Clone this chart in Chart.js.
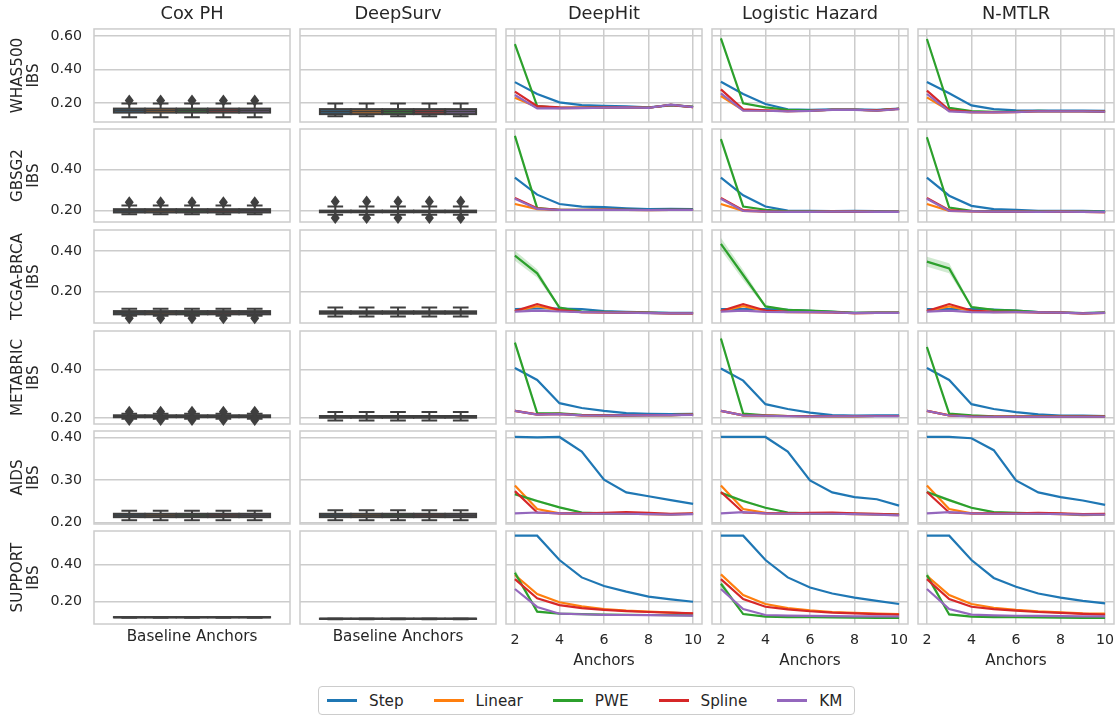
<!DOCTYPE html>
<html>
<head>
<meta charset="utf-8">
<script src="https://cdn.jsdelivr.net/npm/chart.js@4.4.1/dist/chart.umd.min.js"></script>
<style>
  body { margin: 0; background: #fff; width: 1118px; height: 717px; position: relative; overflow: hidden;
         font-family: 'DejaVu Sans', sans-serif; color: #262626; }
  canvas { position: absolute; }
  #legend { position: absolute; left: 318px; top: 686px; width: 537px; height: 29px; border: 1px solid #cccccc;
            border-radius: 4px; display: flex; align-items: center; box-sizing: border-box; padding-left: 8px;
            font-size: 15.2px; background: #fff; }
  #legend .item { display: flex; align-items: center; margin-right: 30px; }
  #legend .swatch { width: 30px; height: 2.2px; margin-right: 12px; }
</style>
</head>
<body>
<div id="legend"></div>
<script>
// --- données ---
const rowNames = ['WHAS500', 'GBSG2', 'TCGA-BRCA', 'METABRIC', 'AIDS', 'SUPPORT'];
const models = ['Cox PH', 'DeepSurv', 'DeepHit', 'Logistic Hazard', 'N-MTLR'];
const methods = ['Step', 'Linear', 'PWE', 'Spline', 'KM'];
const anchors = [2, 3, 4, 5, 6, 7, 8, 9, 10];

// limites de l'axe y (partagé par ligne) et pas des graduations
const yMin = [0.087, 0.146, 0.043, 0.176, 0.197, 0.081];
const yMax = [0.642, 0.595, 0.504, 0.560, 0.415, 0.578];
const yStep = [0.2, 0.2, 0.2, 0.2, 0.1, 0.2];

// IBS par méthode : Step, Linear, PWE, Spline, KM
const whasDeepHit = [
  [0.325, 0.254, 0.204, 0.188, 0.183, 0.180, 0.174, 0.186, 0.177],
  [0.232, 0.176, 0.170, 0.171, 0.173, 0.175, 0.172, 0.189, 0.176],
  [0.552, 0.182, 0.172, 0.172, 0.174, 0.175, 0.172, 0.189, 0.177],
  [0.268, 0.182, 0.174, 0.173, 0.174, 0.175, 0.172, 0.189, 0.176],
  [0.248, 0.168, 0.168, 0.170, 0.173, 0.174, 0.171, 0.190, 0.176]];
const whasLH = [
  [0.327, 0.254, 0.194, 0.163, 0.160, 0.162, 0.163, 0.160, 0.167],
  [0.242, 0.158, 0.155, 0.151, 0.153, 0.160, 0.160, 0.155, 0.165],
  [0.586, 0.198, 0.174, 0.160, 0.155, 0.160, 0.160, 0.156, 0.166],
  [0.282, 0.162, 0.157, 0.152, 0.154, 0.160, 0.160, 0.156, 0.166],
  [0.258, 0.154, 0.154, 0.150, 0.153, 0.159, 0.159, 0.154, 0.164]];
const whasMTLR = [
  [0.325, 0.258, 0.186, 0.164, 0.156, 0.155, 0.155, 0.155, 0.153],
  [0.234, 0.155, 0.145, 0.145, 0.146, 0.152, 0.150, 0.150, 0.148],
  [0.582, 0.172, 0.152, 0.148, 0.148, 0.153, 0.151, 0.151, 0.149],
  [0.274, 0.158, 0.147, 0.146, 0.147, 0.152, 0.151, 0.151, 0.149],
  [0.254, 0.150, 0.145, 0.144, 0.146, 0.151, 0.150, 0.150, 0.148]];

const gbsgDeepHit = [
  [0.360, 0.278, 0.233, 0.220, 0.218, 0.212, 0.208, 0.209, 0.208],
  [0.233, 0.208, 0.204, 0.204, 0.205, 0.204, 0.203, 0.204, 0.204],
  [0.562, 0.213, 0.205, 0.205, 0.206, 0.205, 0.204, 0.205, 0.205],
  [0.262, 0.212, 0.205, 0.205, 0.206, 0.205, 0.204, 0.205, 0.205],
  [0.258, 0.209, 0.204, 0.204, 0.205, 0.204, 0.203, 0.204, 0.204]];
const gbsgLH = [
  [0.360, 0.275, 0.221, 0.201, 0.200, 0.199, 0.200, 0.199, 0.198],
  [0.233, 0.200, 0.196, 0.195, 0.195, 0.196, 0.196, 0.195, 0.195],
  [0.546, 0.221, 0.205, 0.198, 0.196, 0.196, 0.196, 0.195, 0.195],
  [0.262, 0.203, 0.197, 0.195, 0.195, 0.196, 0.196, 0.195, 0.195],
  [0.258, 0.199, 0.196, 0.195, 0.195, 0.196, 0.196, 0.195, 0.195]];
const gbsgMTLR = [
  [0.360, 0.273, 0.224, 0.208, 0.205, 0.200, 0.200, 0.200, 0.197],
  [0.233, 0.200, 0.197, 0.196, 0.196, 0.195, 0.196, 0.195, 0.194],
  [0.555, 0.216, 0.200, 0.198, 0.197, 0.196, 0.197, 0.196, 0.195],
  [0.262, 0.203, 0.198, 0.196, 0.196, 0.195, 0.196, 0.195, 0.194],
  [0.258, 0.199, 0.197, 0.196, 0.196, 0.195, 0.196, 0.195, 0.194]];

const tcgaDeepHit = [
  [0.112, 0.115, 0.115, 0.112, 0.102, 0.098, 0.096, 0.093, 0.093],
  [0.102, 0.127, 0.105, 0.097, 0.095, 0.094, 0.093, 0.091, 0.091],
  [0.377, 0.289, 0.119, 0.100, 0.098, 0.096, 0.093, 0.092, 0.092],
  [0.102, 0.137, 0.107, 0.097, 0.095, 0.094, 0.093, 0.091, 0.091],
  [0.099, 0.104, 0.100, 0.097, 0.095, 0.094, 0.092, 0.091, 0.091]];
const tcgaLH = [
  [0.112, 0.112, 0.112, 0.108, 0.103, 0.098, 0.093, 0.094, 0.094],
  [0.102, 0.127, 0.103, 0.097, 0.097, 0.096, 0.092, 0.093, 0.093],
  [0.435, 0.281, 0.125, 0.108, 0.105, 0.100, 0.093, 0.095, 0.094],
  [0.102, 0.137, 0.105, 0.098, 0.097, 0.096, 0.092, 0.093, 0.093],
  [0.099, 0.104, 0.098, 0.097, 0.097, 0.096, 0.092, 0.093, 0.093]];
const tcgaMTLR = [
  [0.112, 0.112, 0.112, 0.110, 0.104, 0.097, 0.095, 0.092, 0.094],
  [0.102, 0.125, 0.103, 0.097, 0.098, 0.096, 0.094, 0.091, 0.093],
  [0.347, 0.314, 0.122, 0.108, 0.105, 0.097, 0.095, 0.092, 0.094],
  [0.102, 0.137, 0.105, 0.098, 0.098, 0.096, 0.094, 0.091, 0.093],
  [0.099, 0.104, 0.097, 0.096, 0.097, 0.096, 0.094, 0.091, 0.093]];

const metabricDeepHit = [
  [0.407, 0.358, 0.262, 0.242, 0.230, 0.221, 0.218, 0.217, 0.218],
  [0.230, 0.215, 0.218, 0.212, 0.212, 0.212, 0.213, 0.213, 0.215],
  [0.512, 0.221, 0.220, 0.214, 0.212, 0.212, 0.213, 0.213, 0.215],
  [0.230, 0.216, 0.218, 0.212, 0.212, 0.212, 0.213, 0.213, 0.215],
  [0.230, 0.215, 0.217, 0.212, 0.211, 0.212, 0.212, 0.213, 0.214]];
const metabricLH = [
  [0.405, 0.355, 0.258, 0.238, 0.223, 0.213, 0.211, 0.212, 0.212],
  [0.230, 0.212, 0.211, 0.209, 0.208, 0.208, 0.208, 0.209, 0.209],
  [0.529, 0.219, 0.212, 0.209, 0.208, 0.208, 0.208, 0.209, 0.209],
  [0.230, 0.212, 0.211, 0.209, 0.208, 0.208, 0.208, 0.209, 0.209],
  [0.230, 0.212, 0.210, 0.208, 0.207, 0.208, 0.208, 0.208, 0.208]];
const metabricMTLR = [
  [0.407, 0.358, 0.258, 0.238, 0.225, 0.216, 0.211, 0.211, 0.209],
  [0.230, 0.212, 0.208, 0.207, 0.207, 0.207, 0.207, 0.207, 0.207],
  [0.494, 0.219, 0.212, 0.208, 0.207, 0.207, 0.207, 0.207, 0.207],
  [0.230, 0.212, 0.208, 0.207, 0.207, 0.207, 0.207, 0.207, 0.207],
  [0.230, 0.211, 0.207, 0.206, 0.206, 0.206, 0.206, 0.206, 0.206]];

const aidsDeepHit = [
  [0.401, 0.400, 0.401, 0.367, 0.301, 0.271, 0.262, 0.253, 0.244],
  [0.287, 0.232, 0.222, 0.221, 0.222, 0.221, 0.220, 0.219, 0.221],
  [0.267, 0.251, 0.236, 0.224, 0.222, 0.222, 0.221, 0.220, 0.221],
  [0.274, 0.224, 0.222, 0.222, 0.223, 0.225, 0.223, 0.221, 0.222],
  [0.222, 0.224, 0.222, 0.221, 0.221, 0.221, 0.220, 0.219, 0.220]];
const aidsLH = [
  [0.401, 0.401, 0.401, 0.367, 0.299, 0.271, 0.260, 0.255, 0.240],
  [0.287, 0.232, 0.223, 0.221, 0.221, 0.221, 0.220, 0.219, 0.218],
  [0.270, 0.251, 0.235, 0.224, 0.222, 0.222, 0.221, 0.220, 0.219],
  [0.272, 0.224, 0.222, 0.222, 0.223, 0.224, 0.222, 0.221, 0.219],
  [0.222, 0.225, 0.222, 0.221, 0.221, 0.221, 0.220, 0.219, 0.217]];
const aidsMTLR = [
  [0.401, 0.401, 0.398, 0.370, 0.299, 0.271, 0.260, 0.252, 0.242],
  [0.287, 0.232, 0.222, 0.221, 0.221, 0.221, 0.220, 0.218, 0.219],
  [0.272, 0.253, 0.235, 0.225, 0.223, 0.222, 0.221, 0.219, 0.220],
  [0.272, 0.224, 0.222, 0.222, 0.222, 0.223, 0.222, 0.220, 0.221],
  [0.222, 0.225, 0.222, 0.221, 0.221, 0.221, 0.220, 0.219, 0.219]];

const supportDeepHit = [
  [0.553, 0.553, 0.423, 0.330, 0.284, 0.254, 0.227, 0.213, 0.200],
  [0.343, 0.241, 0.197, 0.175, 0.161, 0.152, 0.147, 0.142, 0.136],
  [0.355, 0.147, 0.136, 0.134, 0.131, 0.130, 0.129, 0.128, 0.127],
  [0.321, 0.218, 0.182, 0.166, 0.157, 0.150, 0.145, 0.142, 0.138],
  [0.268, 0.172, 0.136, 0.133, 0.130, 0.129, 0.128, 0.127, 0.126]];
const supportLH = [
  [0.553, 0.553, 0.423, 0.330, 0.276, 0.244, 0.222, 0.205, 0.188],
  [0.346, 0.236, 0.188, 0.166, 0.154, 0.145, 0.141, 0.137, 0.134],
  [0.296, 0.134, 0.120, 0.118, 0.117, 0.116, 0.115, 0.114, 0.113],
  [0.321, 0.214, 0.173, 0.159, 0.149, 0.142, 0.138, 0.134, 0.131],
  [0.268, 0.161, 0.129, 0.126, 0.124, 0.123, 0.122, 0.122, 0.121]];
const supportMTLR = [
  [0.553, 0.553, 0.423, 0.327, 0.280, 0.244, 0.222, 0.205, 0.191],
  [0.338, 0.236, 0.188, 0.168, 0.156, 0.148, 0.143, 0.138, 0.136],
  [0.342, 0.132, 0.120, 0.118, 0.117, 0.116, 0.115, 0.114, 0.113],
  [0.321, 0.214, 0.173, 0.160, 0.152, 0.145, 0.140, 0.135, 0.131],
  [0.268, 0.161, 0.131, 0.127, 0.125, 0.124, 0.123, 0.122, 0.122]];

// demi-largeur de la bande de confiance PWE (DeepHit, Logistic Hazard, N-MTLR)
const whasBand = [[0.012, 0.003, 0.002, 0.002, 0.002, 0.002, 0.002, 0.002, 0.002],
                  [0.012, 0.004, 0.002, 0.002, 0.002, 0.002, 0.002, 0.002, 0.002],
                  [0.012, 0.004, 0.002, 0.002, 0.002, 0.002, 0.002, 0.002, 0.002]];
const gbsgBand = [[0.012, 0.003, 0.002, 0.002, 0.002, 0.002, 0.002, 0.002, 0.002],
                  [0.012, 0.004, 0.002, 0.002, 0.002, 0.002, 0.002, 0.002, 0.002],
                  [0.012, 0.004, 0.002, 0.002, 0.002, 0.002, 0.002, 0.002, 0.002]];
const tcgaBand = [[0.025, 0.020, 0.006, 0.003, 0.002, 0.002, 0.002, 0.002, 0.002],
                  [0.030, 0.025, 0.006, 0.003, 0.002, 0.002, 0.002, 0.002, 0.002],
                  [0.025, 0.025, 0.006, 0.003, 0.002, 0.002, 0.002, 0.002, 0.002]];
const metabricBand = [[0.012, 0.003, 0.002, 0.002, 0.002, 0.002, 0.002, 0.002, 0.002],
                      [0.012, 0.003, 0.002, 0.002, 0.002, 0.002, 0.002, 0.002, 0.002],
                      [0.012, 0.003, 0.002, 0.002, 0.002, 0.002, 0.002, 0.002, 0.002]];
const aidsBand = [[0.004, 0.003, 0.002, 0.002, 0.002, 0.002, 0.002, 0.002, 0.002],
                  [0.004, 0.003, 0.002, 0.002, 0.002, 0.002, 0.002, 0.002, 0.002],
                  [0.004, 0.003, 0.002, 0.002, 0.002, 0.002, 0.002, 0.002, 0.002]];
const supportBand = [[0.020, 0.005, 0.002, 0.002, 0.002, 0.002, 0.002, 0.002, 0.002],
                     [0.020, 0.005, 0.002, 0.002, 0.002, 0.002, 0.002, 0.002, 0.002],
                     [0.020, 0.005, 0.002, 0.002, 0.002, 0.002, 0.002, 0.002, 0.002]];

// boîtes des modèles de base : [moustache basse, Q1, médiane, Q3, moustache haute]
const coxBoxes = [
  [0.115, 0.143, 0.155, 0.167, 0.198],
  [0.184, 0.192, 0.200, 0.208, 0.226],
  [0.079, 0.086, 0.094, 0.102, 0.114],
  [0.198, 0.204, 0.208, 0.212, 0.218],
  [0.206, 0.213, 0.217, 0.221, 0.228],
  [0.115, 0.116, 0.117, 0.118, 0.119]];
const coxOutliers = [[0.215], [0.241], [0.066], [0.227, 0.193], [], []];
const deepSurvBoxes = [
  [0.122, 0.134, 0.149, 0.164, 0.198],
  [0.181, 0.193, 0.197, 0.201, 0.221],
  [0.075, 0.089, 0.095, 0.101, 0.120],
  [0.190, 0.202, 0.205, 0.209, 0.226],
  [0.206, 0.213, 0.217, 0.221, 0.229],
  [0.107, 0.108, 0.109, 0.110, 0.111]];
const deepSurvOutliers = [[], [0.245, 0.165], [], [], [], []];

const lineColors = ['#1f77b4', '#ff7f0e', '#2ca02c', '#d62728', '#9467bd'];
const boxColors = ['#3274a1', '#e1812c', '#3a923a', '#c03d3e', '#9372b2'];

const lineRows = [
  [whasDeepHit, whasLH, whasMTLR],
  [gbsgDeepHit, gbsgLH, gbsgMTLR],
  [tcgaDeepHit, tcgaLH, tcgaMTLR],
  [metabricDeepHit, metabricLH, metabricMTLR],
  [aidsDeepHit, aidsLH, aidsMTLR],
  [supportDeepHit, supportLH, supportMTLR]];
const bandRows = [whasBand, gbsgBand, tcgaBand, metabricBand, aidsBand, supportBand];

// --- mise en page ---
const colLeft = [94, 300, 506, 712, 918];
const rowTop = [29, 129, 230, 331, 431, 531];
const panelW = 196, panelH = 93;
const FONT = 'DejaVu Sans';
const TXT = '#262626';
const GRID = '#cccccc';

// cadre gris autour de chaque panneau
const framePlugin = {
  id: 'frame',
  afterDatasetsDraw(chart) {
    const {ctx, chartArea: a} = chart;
    ctx.save();
    ctx.strokeStyle = GRID;
    ctx.lineWidth = 1.5;
    ctx.strokeRect(a.left, a.top, a.width, a.height);
    ctx.restore();
  }
};

// boîtes à moustaches dessinées via les échelles du graphique
const boxPlugin = {
  id: 'boxes',
  afterDatasetsDraw(chart, args, opts) {
    if (!opts.stats) return;
    const {ctx, scales: {x, y}} = chart;
    const [lo, q1, med, q3, hi] = opts.stats;
    const hueW = 0.8 / methods.length;
    ctx.save();
    ctx.strokeStyle = '#3f3f3f';
    ctx.lineWidth = 2;
    methods.forEach((m, i) => {
      const c = -0.4 + hueW * (i + 0.5);
      const x0 = x.getPixelForValue(c - hueW * 0.49);
      const x1 = x.getPixelForValue(c + hueW * 0.49);
      const xc = x.getPixelForValue(c);
      const capL = x.getPixelForValue(c - hueW * 0.25);
      const capR = x.getPixelForValue(c + hueW * 0.25);
      const yq1 = y.getPixelForValue(q1), yq3 = y.getPixelForValue(q3);
      ctx.fillStyle = boxColors[i];
      ctx.fillRect(x0, yq3, x1 - x0, yq1 - yq3);
      ctx.strokeRect(x0, yq3, x1 - x0, yq1 - yq3);
      ctx.beginPath();
      ctx.moveTo(x0, y.getPixelForValue(med)); ctx.lineTo(x1, y.getPixelForValue(med));
      ctx.moveTo(xc, yq3); ctx.lineTo(xc, y.getPixelForValue(hi));
      ctx.moveTo(xc, yq1); ctx.lineTo(xc, y.getPixelForValue(lo));
      ctx.moveTo(capL, y.getPixelForValue(hi)); ctx.lineTo(capR, y.getPixelForValue(hi));
      ctx.moveTo(capL, y.getPixelForValue(lo)); ctx.lineTo(capR, y.getPixelForValue(lo));
      ctx.stroke();
      ctx.fillStyle = '#3f3f3f';
      (opts.outliers || []).forEach(v => {
        const py = y.getPixelForValue(v);
        ctx.beginPath();
        ctx.moveTo(xc, py - 6); ctx.lineTo(xc + 4.5, py); ctx.lineTo(xc, py + 6); ctx.lineTo(xc - 4.5, py);
        ctx.closePath();
        ctx.fill();
      });
    });
    ctx.restore();
  }
};

function lineDatasets(r, c) {
  const series = lineRows[r][c - 2];
  const band = bandRows[r][c - 2];
  const sets = [];
  series.forEach((vals, i) => {
    sets.push({
      label: methods[i],
      data: anchors.map((a, k) => ({x: a, y: vals[k]})),
      borderColor: lineColors[i],
      borderWidth: 2.2,
      pointRadius: 0,
      tension: 0,
      fill: false,
      order: methods.length - i
    });
  });
  const pwe = series[2];
  sets.push({
    data: anchors.map((a, k) => ({x: a, y: pwe[k] + band[k]})),
    borderWidth: 0, pointRadius: 0, order: 10,
    backgroundColor: 'rgba(44,160,44,0.22)', fill: '+1'
  });
  sets.push({
    data: anchors.map((a, k) => ({x: a, y: pwe[k] - band[k]})),
    borderWidth: 0, pointRadius: 0, order: 11, fill: false
  });
  return sets;
}

function makePanel(r, c) {
  const isBox = c < 2;
  const P = 10;
  const padL = c === 0 ? 0 : P;
  const yW = c === 0 ? 94 : 0;
  const padT = r === 0 ? 0 : P;
  const titleH = r === 0 ? 29 : 0;
  const xH = r === 5 ? (isBox ? 22 : 46) : 0;
  const padB = r === 5 ? 6 : P;
  const w = padL + yW + panelW + P;
  const h = padT + titleH + panelH + xH + padB;

  const cv = document.createElement('canvas');
  cv.width = w; cv.height = h;
  cv.style.left = (colLeft[c] - padL - yW) + 'px';
  cv.style.top = (rowTop[r] - padT - titleH) + 'px';
  cv.style.width = w + 'px'; cv.style.height = h + 'px';
  document.body.appendChild(cv);

  const boxStats = c === 0 ? coxBoxes[r] : (c === 1 ? deepSurvBoxes[r] : null);
  const boxOut = c === 0 ? coxOutliers[r] : (c === 1 ? deepSurvOutliers[r] : null);

  new Chart(cv, {
    type: 'line',
    data: {datasets: isBox ? [] : lineDatasets(r, c)},
    options: {
      responsive: false,
      animation: false,
      layout: {padding: {left: padL, right: P, top: padT, bottom: padB}},
      plugins: {
        legend: {display: false},
        tooltip: {enabled: false},
        title: {
          display: r === 0, text: models[c], fullSize: false, color: TXT,
          font: {family: FONT, size: 17.8, weight: 'normal'},
          padding: {top: 3.5, bottom: 4.1}
        },
        boxes: {stats: boxStats, outliers: boxOut}
      },
      scales: {
        x: {
          type: 'linear',
          min: isBox ? -0.5 : 1.6,
          max: isBox ? 0.5 : 10.4,
          grid: {display: !isBox, color: GRID, lineWidth: 1.5, drawTicks: false},
          border: {display: false},
          ticks: {
            display: r === 5 && !isBox, stepSize: 2, includeBounds: false,
            color: TXT, padding: 8, font: {family: FONT, size: 14.2}
          },
          title: {
            display: r === 5, text: isBox ? 'Baseline Anchors' : 'Anchors', color: TXT,
            font: {family: FONT, size: 15.2}, padding: 0
          },
          afterFit: s => { s.height = xH; s.paddingLeft = 0; s.paddingRight = 0; }
        },
        y: {
          min: yMin[r], max: yMax[r],
          grid: {color: GRID, lineWidth: 1.5, drawTicks: false},
          border: {display: false},
          ticks: {
            display: c === 0, stepSize: yStep[r], includeBounds: false,
            color: TXT, padding: 12, font: {family: FONT, size: 14.2},
            callback: v => v.toFixed(2)
          },
          title: {
            display: c === 0, text: [rowNames[r], 'IBS'], color: TXT,
            font: {family: FONT, size: 15.2, lineHeight: 1.07}, padding: {top: 10, bottom: 0}
          },
          afterFit: s => { s.width = yW; s.paddingTop = 0; s.paddingBottom = 0; }
        }
      }
    },
    plugins: [framePlugin, boxPlugin]
  });
}

for (let r = 0; r < rowNames.length; r++) {
  for (let c = 0; c < models.length; c++) makePanel(r, c);
}

// légende commune en bas
const legend = document.getElementById('legend');
methods.forEach((m, i) => {
  const item = document.createElement('div');
  item.className = 'item';
  const sw = document.createElement('span');
  sw.className = 'swatch';
  sw.style.background = lineColors[i];
  const lab = document.createElement('span');
  lab.textContent = m;
  item.appendChild(sw); item.appendChild(lab);
  legend.appendChild(item);
});
</script>
</body>
</html>
